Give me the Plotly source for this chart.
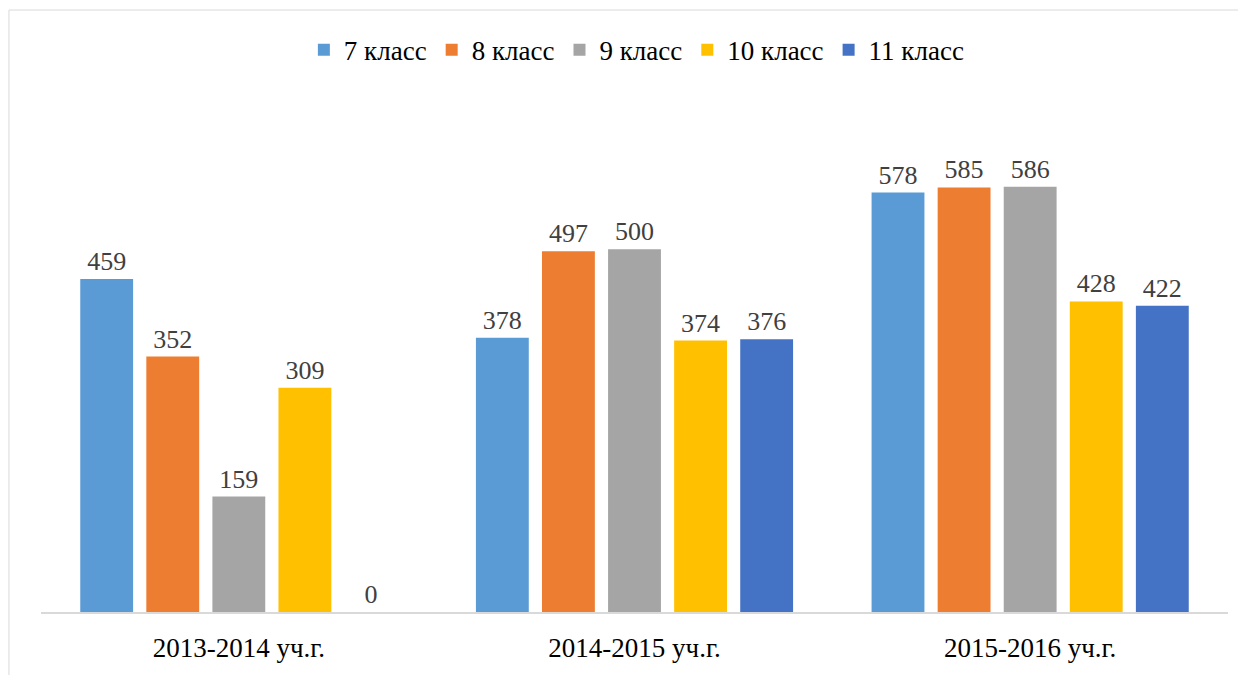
import plotly.graph_objects as go

years = ["2013-2014 уч.г.", "2014-2015 уч.г.", "2015-2016 уч.г."]
series_names = ["7 класс", "8 класс", "9 класс", "10 класс", "11 класс"]
values_7 = [459, 378, 578]
values_8 = [352, 497, 585]
values_9 = [159, 500, 586]
values_10 = [309, 374, 428]
values_11 = [0, 376, 422]

COLORS = ["#5B9BD5", "#ED7D31", "#A5A5A5", "#FFC000", "#4472C4"]
FONT = "Liberation Serif"

all_values = [values_7, values_8, values_9, values_10, values_11]

fig = go.Figure()
for name, vals, color in zip(series_names, all_values, COLORS):
    fig.add_trace(go.Bar(
        x=years, y=vals, name=name, marker_color=color, marker_line_width=0,
        text=vals, textposition="outside", cliponaxis=False,
        textfont=dict(family=FONT, size=26, color="#404040"),
    ))

# chart border (page has an 8px body margin, so margins are offset by it)
fig.add_shape(
    type="rect", xref="paper", yref="paper",
    x0=-0.027, x1=1.2, y0=-0.3, y1=1.185,
    line=dict(color="#D9D9D9", width=1), layer="below",
)

fig.update_layout(
    width=1246, height=675,
    margin=dict(l=33, r=26, t=96, b=71),
    paper_bgcolor="white", plot_bgcolor="white",
    barmode="group", bargap=0.165, bargroupgap=0.2,
    font=dict(family=FONT, size=26, color="#000000"),
    legend=dict(
        orientation="h", x=0.502, xanchor="center", y=1.106, yanchor="middle",
        font=dict(family="'Liberation Serif', serif", size=27, color="#000000"),
    ),
    xaxis=dict(
        showline=True, linecolor="#D9D9D9", linewidth=2,
        ticks="outside", ticklen=11, tickcolor="white",
        tickfont=dict(family=FONT, size=27, color="#000000"),
    ),
    yaxis=dict(range=[0, 700], visible=False, showgrid=False),
)

fig.write_html("out.html")
